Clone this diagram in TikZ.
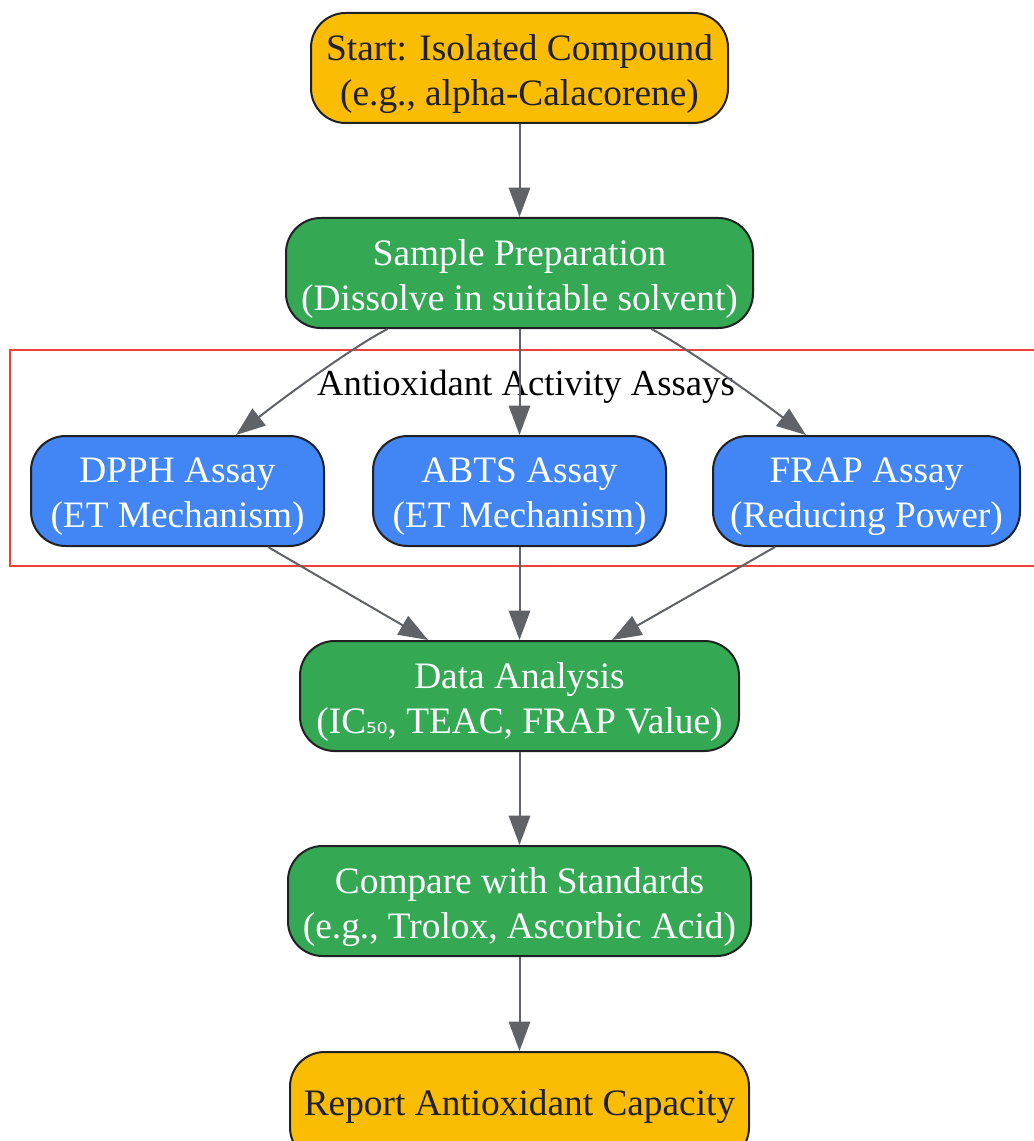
\documentclass[tikz,border=0pt]{standalone}
\usepackage{fontspec}
\setmainfont{Liberation Serif}
\newfontfamily\subfont{DejaVu Sans}
\usetikzlibrary{arrows.meta}
\definecolor{cyellow}{HTML}{FBBC04}
\definecolor{cgreen}{HTML}{34A853}
\definecolor{cblue}{HTML}{4285F4}
\definecolor{cedge}{HTML}{5F6368}
\definecolor{cborder}{HTML}{202124}
\definecolor{ccluster}{HTML}{EA4335}
\begin{document}
\begin{tikzpicture}[x=0.75pt,y=-0.75pt,
  box/.style={draw=cborder,line width=1.5pt,rounded corners=26pt,inner sep=0pt,minimum height=82.5pt},
  lbl/.style={align=center,font=\fontsize{28}{33.75}\selectfont,inner sep=0pt,yshift=-4.5pt},
  ybox/.style={box,fill=cyellow},
  gbox/.style={box,fill=cgreen},
  bbox/.style={box,fill=cblue},
  dtext/.style={lbl,text=cborder},
  wtext/.style={lbl,text=white},
  conn/.style={draw=cedge,line width=1.5pt,-{Triangle[length=22pt,width=16pt]}}]
\useasboundingbox (0,0) rectangle (1033,1141);
\draw[ccluster,line width=1.3pt] (10,350) rectangle (1045,566);
\node[font=\fontsize{27.5}{33}\selectfont] (cl) at (526,387) {Antioxidant Activity Assays};
\node[ybox,minimum width=312.75pt] (start) at (519.5,68) {};
\node[dtext] (startt) at (start.center) {Start: Isolated Compound\\(e.g., alpha-Calacorene)};
\node[gbox,minimum width=350.25pt] (prep) at (519.5,273) {};
\node[wtext] (prept) at (prep.center) {Sample Preparation\\(Dissolve in suitable solvent)};
\node[bbox,minimum width=219.75pt] (dpph) at (177.5,491) {};
\node[wtext] (dppht) at (dpph.center) {DPPH Assay\\(ET Mechanism)};
\node[bbox,minimum width=219.75pt] (abts) at (519.5,491) {};
\node[wtext] (abtst) at (abts.center) {ABTS Assay\\(ET Mechanism)};
\node[bbox,minimum width=230.25pt] (frap) at (866.5,491) {};
\node[wtext] (frapt) at (frap.center) {FRAP Assay\\(Reducing Power)};
\node[gbox,minimum width=329.25pt] (data) at (519.5,696) {};
\node[wtext] (datat) at (data.center) {Data Analysis\\(IC{\subfont\fontsize{20}{24}\selectfont ₅₀}, TEAC, FRAP Value)};
\node[gbox,minimum width=347.25pt] (comp) at (519.5,901) {};
\node[wtext] (compt) at (comp.center) {Compare with Standards\\(e.g., Trolox, Ascorbic Acid)};
\node[ybox,minimum width=344.25pt] (rep) at (519.5,1107) {};
\node[dtext,yshift=4.5pt] (rept) at (rep.center) {Report Antioxidant Capacity};
\draw[conn] (start) -- (prep);
\draw[conn] ([xshift=-99pt]prep.south) .. controls (360,343) and (300,385) .. ([xshift=43.9pt]dpph.north);
\draw[conn] (prep) -- (abts);
\draw[conn] ([xshift=99pt]prep.south) .. controls (678,343) and (740,385) .. ([xshift=-45.4pt]frap.north);
\draw[conn] ([xshift=67.9pt]dpph.south) -- ([xshift=-68.6pt]data.north);
\draw[conn] (abts) -- (data);
\draw[conn] ([xshift=-68.6pt]frap.south) -- ([xshift=69.4pt]data.north);
\draw[conn] (data) -- (comp);
\draw[conn] (comp) -- (rep);
\end{tikzpicture}
\end{document}
